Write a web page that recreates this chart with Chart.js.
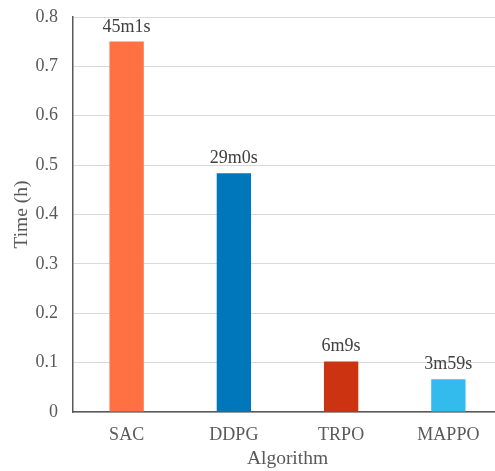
<!DOCTYPE html>
<html>
<head>
<meta charset="utf-8">
<script src="https://cdn.jsdelivr.net/npm/chart.js@4.4.1/dist/chart.umd.min.js"></script>
<style>
  html, body { margin: 0; padding: 0; background: #ffffff; overflow: hidden; }
  #wrap { position: absolute; left: 0; top: 0; width: 502px; height: 471px; }
</style>
</head>
<body>
<div id="wrap"><canvas id="c" width="502" height="471"></canvas></div>
<script>
// Training time per algorithm
const algorithms = ['SAC', 'DDPG', 'TRPO', 'MAPPO'];
const minutes = [45, 29, 6, 3];
const seconds = [1, 0, 9, 59];
const barColors = ['#FF7043', '#0077BB', '#CC3311', '#33BBEE'];
const yTicks = [0, 0.1, 0.2, 0.3, 0.4, 0.5, 0.6, 0.7, 0.8];

// hours shown on the axis, labels shown as "XmYs"
const hours = minutes.map((m, i) => (m * 60 + seconds[i]) / 3600);
const timeLabels = minutes.map((m, i) => m + 'm' + seconds[i] + 's');

const serif = '"Liberation Serif", "Times New Roman", serif';
const textColor = '#595959';

const valueLabels = {
  id: 'valueLabels',
  afterDatasetsDraw(chart) {
    const ctx = chart.ctx;
    const meta = chart.getDatasetMeta(0);
    ctx.save();
    ctx.font = '18px ' + serif;
    ctx.fillStyle = '#404040';
    ctx.textAlign = 'center';
    ctx.textBaseline = 'alphabetic';
    meta.data.forEach((bar, i) => {
      ctx.fillText(timeLabels[i], bar.x, bar.y - 10);
    });
    ctx.restore();
  }
};

function draw() {
  new Chart(document.getElementById('c'), {
    type: 'bar',
    data: {
      labels: algorithms,
      datasets: [{
        data: hours,
        backgroundColor: barColors,
        borderWidth: 0,
        barPercentage: 0.32,
        categoryPercentage: 1.0
      }]
    },
    options: {
      responsive: false,
      animation: false,
      devicePixelRatio: 1,
      layout: { padding: { top: 17, right: 0, bottom: 0, left: 0 } },
      plugins: {
        legend: { display: false },
        tooltip: { enabled: false }
      },
      scales: {
        x: {
          grid: { display: false, drawTicks: false },
          border: { display: true, color: '#595959', width: 1.5 },
          ticks: { color: textColor, font: { family: serif, size: 18 }, padding: 12 },
          title: {
            display: true, text: 'Algorithm', color: textColor,
            font: { family: serif, size: 19.5 }, padding: { top: 0, bottom: 0 }
          },
          afterFit(scale) { scale.height = 59; }
        },
        y: {
          min: 0, max: 0.8,
          afterBuildTicks(scale) { scale.ticks = yTicks.map(v => ({ value: v })); },
          grid: {
            color: '#D9D9D9', lineWidth: 1,
            drawTicks: true, tickLength: 15, tickColor: 'rgba(0,0,0,0)'
          },
          border: { display: true, color: '#595959', width: 1.5 },
          ticks: {
            color: textColor, font: { family: serif, size: 18 }, padding: 0,
            callback: v => String(Math.round(v * 10) / 10)
          },
          title: {
            display: true, text: 'Time (h)', color: textColor,
            font: { family: serif, size: 19.5 }, padding: { top: 10, bottom: 0 }
          },
          afterFit(scale) { scale.width = 73; }
        }
      }
    },
    plugins: [valueLabels]
  });
}

if (document.fonts && document.fonts.load) {
  document.fonts.load('18px "Liberation Serif"').then(draw, draw);
} else {
  draw();
}
</script>
</body>
</html>
